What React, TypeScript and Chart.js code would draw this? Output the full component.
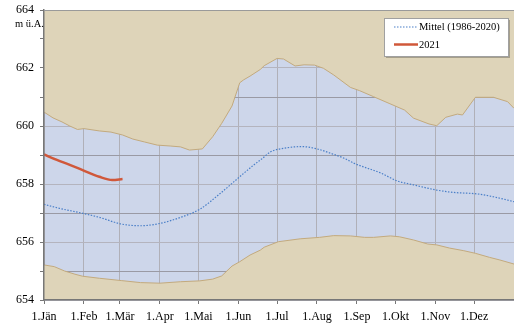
import React, { useEffect, useRef } from "react";
import { Chart, registerables } from "chart.js";

Chart.register(...registerables);

// Day-of-year positions of month starts
const monthDays = [0, 31, 59, 90, 120, 151, 181, 212, 243, 273, 304, 334];
const monthLabels = ["1.Jän", "1.Feb", "1.Mär", "1.Apr", "1.Mai", "1.Jun", "1.Jul", "1.Aug", "1.Sep", "1.Okt", "1.Nov", "1.Dez"];

// Maximum envelope
const maxDays = [0, 7, 14, 20, 26, 31, 43, 52, 61, 69, 78, 88, 98, 106, 113, 123, 131, 138, 146, 152, 155, 160, 168, 171, 181, 186, 195, 202, 210, 217, 225, 238, 245, 256, 268, 280, 287, 299, 305, 312, 321, 325, 335, 349, 360, 365];
const maxVals = [660.48, 660.28, 660.14, 660.0, 659.88, 659.91, 659.83, 659.79, 659.69, 659.55, 659.45, 659.34, 659.31, 659.28, 659.17, 659.21, 659.63, 660.09, 660.69, 661.49, 661.59, 661.72, 661.95, 662.08, 662.33, 662.31, 662.07, 662.11, 662.10, 661.99, 661.76, 661.33, 661.22, 661.01, 660.78, 660.55, 660.27, 660.07, 660.01, 660.30, 660.41, 660.38, 660.99, 660.99, 660.84, 660.61];

// Minimum envelope
const minDays = [0, 8, 16, 24, 30, 43, 60, 75, 90, 106, 121, 131, 138, 146, 152, 160, 168, 171, 182, 199, 214, 225, 238, 249, 256, 269, 276, 287, 298, 305, 315, 326, 335, 346, 354, 365];
const minVals = [655.21, 655.15, 655.0, 654.89, 654.82, 654.75, 654.67, 654.60, 654.58, 654.63, 654.66, 654.72, 654.83, 655.17, 655.32, 655.55, 655.72, 655.82, 656.01, 656.11, 656.16, 656.22, 656.21, 656.16, 656.16, 656.21, 656.18, 656.07, 655.93, 655.90, 655.79, 655.70, 655.61, 655.47, 655.38, 655.24];

// Mittel (1986-2020)
const meanDays = [0, 12, 30, 43, 60, 75, 90, 106, 121, 137, 152, 163, 169, 176, 189, 200, 212, 225, 233, 241, 262, 274, 287, 305, 318, 336, 349, 365];
const meanVals = [657.30, 657.16, 656.99, 656.85, 656.62, 656.56, 656.64, 656.85, 657.13, 657.68, 658.25, 658.66, 658.86, 659.11, 659.25, 659.29, 659.21, 659.02, 658.89, 658.71, 658.37, 658.11, 657.97, 657.79, 657.71, 657.66, 657.56, 657.39];

// 2021
const y2021Days = [0, 10, 20, 30, 43, 53, 61];
const y2021Vals = [659.02, 658.83, 658.66, 658.48, 658.25, 658.14, 658.17];

const pts = (xs: number[], ys: number[]) => xs.map((x, i) => ({ x, y: ys[i] }));

const BEIGE = "#ded4b9";
const BLUE = "#cdd6ea";
const EDGE = "#c3aa7e";
const SERIF = "'Liberation Serif', 'Times New Roman', serif";

const decorPlugin = {
  id: "decor",
  beforeDraw(chart: any) {
    const { ctx, chartArea: a } = chart;
    ctx.save();
    ctx.fillStyle = BLUE;
    ctx.fillRect(a.left, a.top, a.right - a.left, a.bottom - a.top);
    ctx.restore();
  },
  afterDraw(chart: any) {
    const { ctx, chartArea: a } = chart;
    ctx.save();
    // top frame line
    ctx.strokeStyle = "#9a9a9a";
    ctx.lineWidth = 1;
    ctx.beginPath();
    ctx.moveTo(a.left, a.top + 0.5);
    ctx.lineTo(a.right, a.top + 0.5);
    ctx.stroke();
    // unit label
    ctx.fillStyle = "#000";
    ctx.font = `10.5px ${SERIF}`;
    ctx.textAlign = "left";
    ctx.textBaseline = "middle";
    ctx.fillText("m ü.A.", 15, 24);
    // legend box
    const bx = 384, by = 18, bw = 124, bh = 38;
    ctx.fillStyle = "rgba(0,0,0,0.25)";
    ctx.fillRect(bx + 2, by + 2, bw, bh);
    ctx.fillStyle = "#fff";
    ctx.fillRect(bx, by, bw, bh);
    ctx.strokeStyle = "#a0a0a0";
    ctx.strokeRect(bx + 0.5, by + 0.5, bw, bh);
    // Mittel sample
    ctx.strokeStyle = "#4a7fc8";
    ctx.lineWidth = 1.2;
    ctx.setLineDash([1.5, 1.5]);
    ctx.beginPath();
    ctx.moveTo(394, 27);
    ctx.lineTo(418, 27);
    ctx.stroke();
    ctx.setLineDash([]);
    // 2021 sample
    ctx.strokeStyle = "#d0583a";
    ctx.lineWidth = 2.5;
    ctx.beginPath();
    ctx.moveTo(394, 44.5);
    ctx.lineTo(418, 44.5);
    ctx.stroke();
    ctx.fillStyle = "#000";
    ctx.font = `10.5px ${SERIF}`;
    ctx.textBaseline = "middle";
    ctx.fillText("Mittel (1986-2020)", 419, 27);
    ctx.fillText("2021", 419, 45);
    ctx.restore();
  },
};

export default function App() {
  const ref = useRef<HTMLCanvasElement | null>(null);
  useEffect(() => {
    document.body.style.margin = "0";
    const chart = new Chart(ref.current!, {
      type: "line",
      data: {
        datasets: [
          {
            label: "max",
            data: pts(maxDays, maxVals),
            borderColor: EDGE,
            borderWidth: 1,
            pointRadius: 0,
            fill: "end",
            backgroundColor: BEIGE,
            order: 3,
            tension: 0,
          },
          {
            label: "min",
            data: pts(minDays, minVals),
            borderColor: EDGE,
            borderWidth: 1,
            pointRadius: 0,
            fill: "start",
            backgroundColor: BEIGE,
            order: 3,
            tension: 0,
          },
          {
            label: "Mittel (1986-2020)",
            data: pts(meanDays, meanVals),
            borderColor: "#4a7fc8",
            borderWidth: 1.2,
            borderDash: [1.5, 1.5],
            pointRadius: 0,
            fill: false,
            order: 1,
            cubicInterpolationMode: "monotone",
          },
          {
            label: "2021",
            data: pts(y2021Days, y2021Vals),
            borderColor: "#d0583a",
            borderWidth: 2.5,
            pointRadius: 0,
            fill: false,
            order: 0,
            cubicInterpolationMode: "monotone",
          },
        ],
      },
      options: {
        animation: false,
        responsive: false,
        maintainAspectRatio: false,
        layout: { padding: { top: 10, right: 0, left: 0, bottom: 0 } },
        plugins: { legend: { display: false }, tooltip: { enabled: false } },
        scales: {
          x: {
            type: "linear",
            min: 0,
            max: 365,
            afterBuildTicks: (s: any) => {
              s.ticks = monthDays.map((v) => ({ value: v }));
            },
            afterFit: (s: any) => {
              s.height = 25;
            },
            ticks: {
              autoSkip: false,
              maxRotation: 0,
              padding: 6,
              color: "#000",
              font: { family: SERIF, size: 12 },
              callback: (v: any) => {
                const i = monthDays.indexOf(Number(v));
                return i >= 0 ? monthLabels[i] : "";
              },
            },
            grid: { color: "#b0b0b8", lineWidth: 1, tickLength: 4, tickColor: "#777" },
            border: { color: "#777", width: 1.5, z: 1 },
          },
          y: {
            min: 654,
            max: 664,
            afterBuildTicks: (s: any) => {
              const t = [];
              for (let v = 654; v <= 664; v++) t.push({ value: v });
              s.ticks = t;
            },
            afterFit: (s: any) => {
              s.width = 44;
              s.paddingTop = 0;
              s.paddingBottom = 0;
            },
            ticks: {
              padding: 6,
              color: "#000",
              font: { family: SERIF, size: 12 },
              callback: (v: any) => (Number(v) % 2 === 0 ? String(v) : ""),
            },
            grid: {
              color: (c: any) => (c.tick && Math.round(c.tick.value) % 2 !== 0 ? "#9a9aa4" : "#b4b4be"),
              lineWidth: 1,
              tickLength: 4,
              tickColor: "#777",
            },
            border: { color: "#777", width: 1.5, z: 1 },
          },
        },
      },
      plugins: [decorPlugin],
    } as any);
    return () => chart.destroy();
  }, []);
  return <canvas ref={ref} width={514} height={325} style={{ display: "block" }} />;
}
